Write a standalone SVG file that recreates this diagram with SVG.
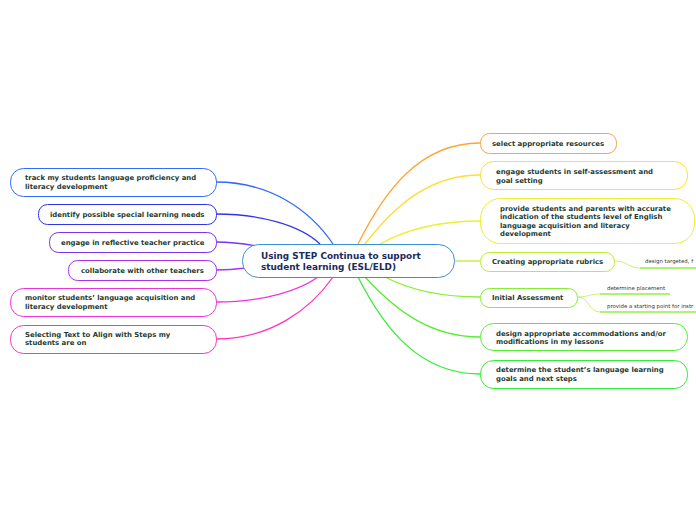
<svg xmlns="http://www.w3.org/2000/svg" width="696" height="520" viewBox="0 0 696 520">
<style>
.n{fill:#fff;stroke-width:1}
.t{font-family:"DejaVu Sans",Verdana,sans-serif;font-weight:bold;font-size:6.9px;fill:#1e3b33}
.c{fill:none;stroke-width:1.3}
.s{font-family:"DejaVu Sans",Verdana,sans-serif;font-size:5.4px;fill:#333}
</style>
<rect width="696" height="520" fill="#fff"/>
<g id="connectors">
<path class="c" stroke="#2f6bff" d="M216,182 C270,182 310,210 333,244"/>
<path class="c" stroke="#3333ee" d="M216,214 C260,214 300,225 320,244"/>
<path class="c" stroke="#7a33ee" d="M216,242 C235,242 245,244 256,246"/>
<path class="c" stroke="#aa33ee" d="M216,270 C230,270 238,269 246,268"/>
<path class="c" stroke="#ee33dd" d="M216,302 C265,302 300,290 318,277"/>
<path class="c" stroke="#ff33bb" d="M216,339 C270,339 310,310 333,277"/>
<path class="c" stroke="#ffa533" d="M480,143 C420,143 385,190 358,244"/>
<path class="c" stroke="#ffdd33" d="M480,175 C430,175 395,205 365,244"/>
<path class="c" stroke="#eeee33" d="M480,221 C440,221 405,230 380,244"/>
<path class="c" stroke="#bbee33" d="M455,261 L480,261"/>
<path class="c" stroke="#88ee33" d="M480,297 C440,297 410,290 385,277"/>
<path class="c" stroke="#55ee33" d="M480,337 C430,337 395,310 365,277"/>
<path class="c" stroke="#33ee33" d="M480,374 C420,374 385,330 358,277"/>
<path fill="none" stroke="#bbee55" stroke-width="0.8" d="M614,261 C628,261 628,268 640,268"/>
<path fill="none" stroke="#bbee55" stroke-width="0.8" d="M577,297 C590,297 588,294 600,294"/>
<path fill="none" stroke="#bbee55" stroke-width="0.8" d="M577,297 C590,297 588,312 600,312"/>
<path fill="none" stroke="#99ee44" stroke-width="1.5" d="M640,268 L696,268"/>
<path fill="none" stroke="#99ee44" stroke-width="1.5" d="M600,294 L670,294"/>
<path fill="none" stroke="#99ee44" stroke-width="1.5" d="M600,312 L696,312"/>
</g>
<g id="center">
<rect x="242.5" y="244.5" width="212" height="33" rx="16" fill="#fff" stroke="#3b8fd6" stroke-width="1"/>
<text font-family="'DejaVu Sans',Verdana,sans-serif" font-weight="bold" font-size="8.9" fill="#1b2b5b"><tspan x="261" y="259">Using STEP Continua to support</tspan><tspan x="261" y="270">student learning (ESL/ELD)</tspan></text>
</g>
<g id="n-track">
<rect class="n" x="10.5" y="168.5" width="206" height="28" rx="13" stroke="#2f6bff"/>
<text class="t"><tspan x="25" y="180">track my students language proficiency and</tspan><tspan x="25" y="189">literacy development</tspan></text>
</g>
<g id="n-identify">
<rect class="n" x="38.5" y="204.5" width="178" height="20" rx="9" stroke="#3333ee"/>
<text class="t" x="50" y="217">identify possible special learning needs</text>
</g>
<g id="n-engage">
<rect class="n" x="49.5" y="232.5" width="167" height="20" rx="9" stroke="#7a33ee"/>
<text class="t" x="61" y="245">engage in reflective teacher practice</text>
</g>
<g id="n-collab">
<rect class="n" x="68.5" y="260.5" width="148" height="20" rx="9" stroke="#aa33ee"/>
<text class="t" x="81" y="273">collaborate with other teachers</text>
</g>
<g id="n-monitor">
<rect class="n" x="10.5" y="288.5" width="206" height="28" rx="13" stroke="#ee33dd"/>
<text class="t"><tspan x="25" y="300">monitor students’ language acquisition and</tspan><tspan x="25" y="309">literacy development</tspan></text>
</g>
<g id="n-selecting">
<rect class="n" x="10.5" y="325.5" width="206" height="28" rx="13" stroke="#ff33bb"/>
<text class="t"><tspan x="25" y="337">Selecting Text to Align with Steps my</tspan><tspan x="25" y="345">students are on</tspan></text>
</g>
<g id="n-select">
<rect class="n" x="480.5" y="133.5" width="136" height="20" rx="9" stroke="#ffa533"/>
<text class="t" x="492" y="146">select appropriate resources</text>
</g>
<g id="n-selfassess">
<rect class="n" x="480.5" y="161.5" width="207" height="28" rx="13" stroke="#ffdd33"/>
<text class="t"><tspan x="496" y="174">engage students in self-assessment and</tspan><tspan x="496" y="183">goal setting</tspan></text>
</g>
<g id="n-provide">
<rect class="n" x="480.5" y="198.5" width="214" height="45" rx="20" stroke="#eeee33"/>
<text class="t"><tspan x="500" y="211">provide students and parents with accurate</tspan><tspan x="500" y="219">indication of the students level of English</tspan><tspan x="500" y="228">language acquisition and literacy</tspan><tspan x="500" y="236">development</tspan></text>
</g>
<g id="n-rubrics">
<rect class="n" x="480.5" y="252.5" width="134" height="19" rx="9" stroke="#bbee33"/>
<text class="t" x="492" y="264">Creating appropriate rubrics</text>
</g>
<g id="n-rubrics-sub">
<text class="s" x="645" y="263">design targeted, f</text>
</g>
<g id="n-initial">
<rect class="n" x="480.5" y="288.5" width="97" height="19" rx="9" stroke="#88ee33"/>
<text class="t" x="492" y="300">Initial Assessment</text>
</g>
<g id="n-placement">
<text class="s" x="607" y="290">determine placement</text>
</g>
<g id="n-starting">
<text class="s" x="607" y="308">provide a starting point for instr</text>
</g>
<g id="n-design">
<rect class="n" x="480.5" y="323.5" width="207" height="27" rx="13" stroke="#55ee33"/>
<text class="t"><tspan x="496" y="336">design appropriate accommodations and/or</tspan><tspan x="496" y="344">modifications in my lessons</tspan></text>
</g>
<g id="n-determine">
<rect class="n" x="480.5" y="360.5" width="207" height="28" rx="13" stroke="#33ee33"/>
<text class="t"><tspan x="496" y="372">determine the student’s language learning</tspan><tspan x="496" y="381">goals and next steps</tspan></text>
</g>
</svg>
